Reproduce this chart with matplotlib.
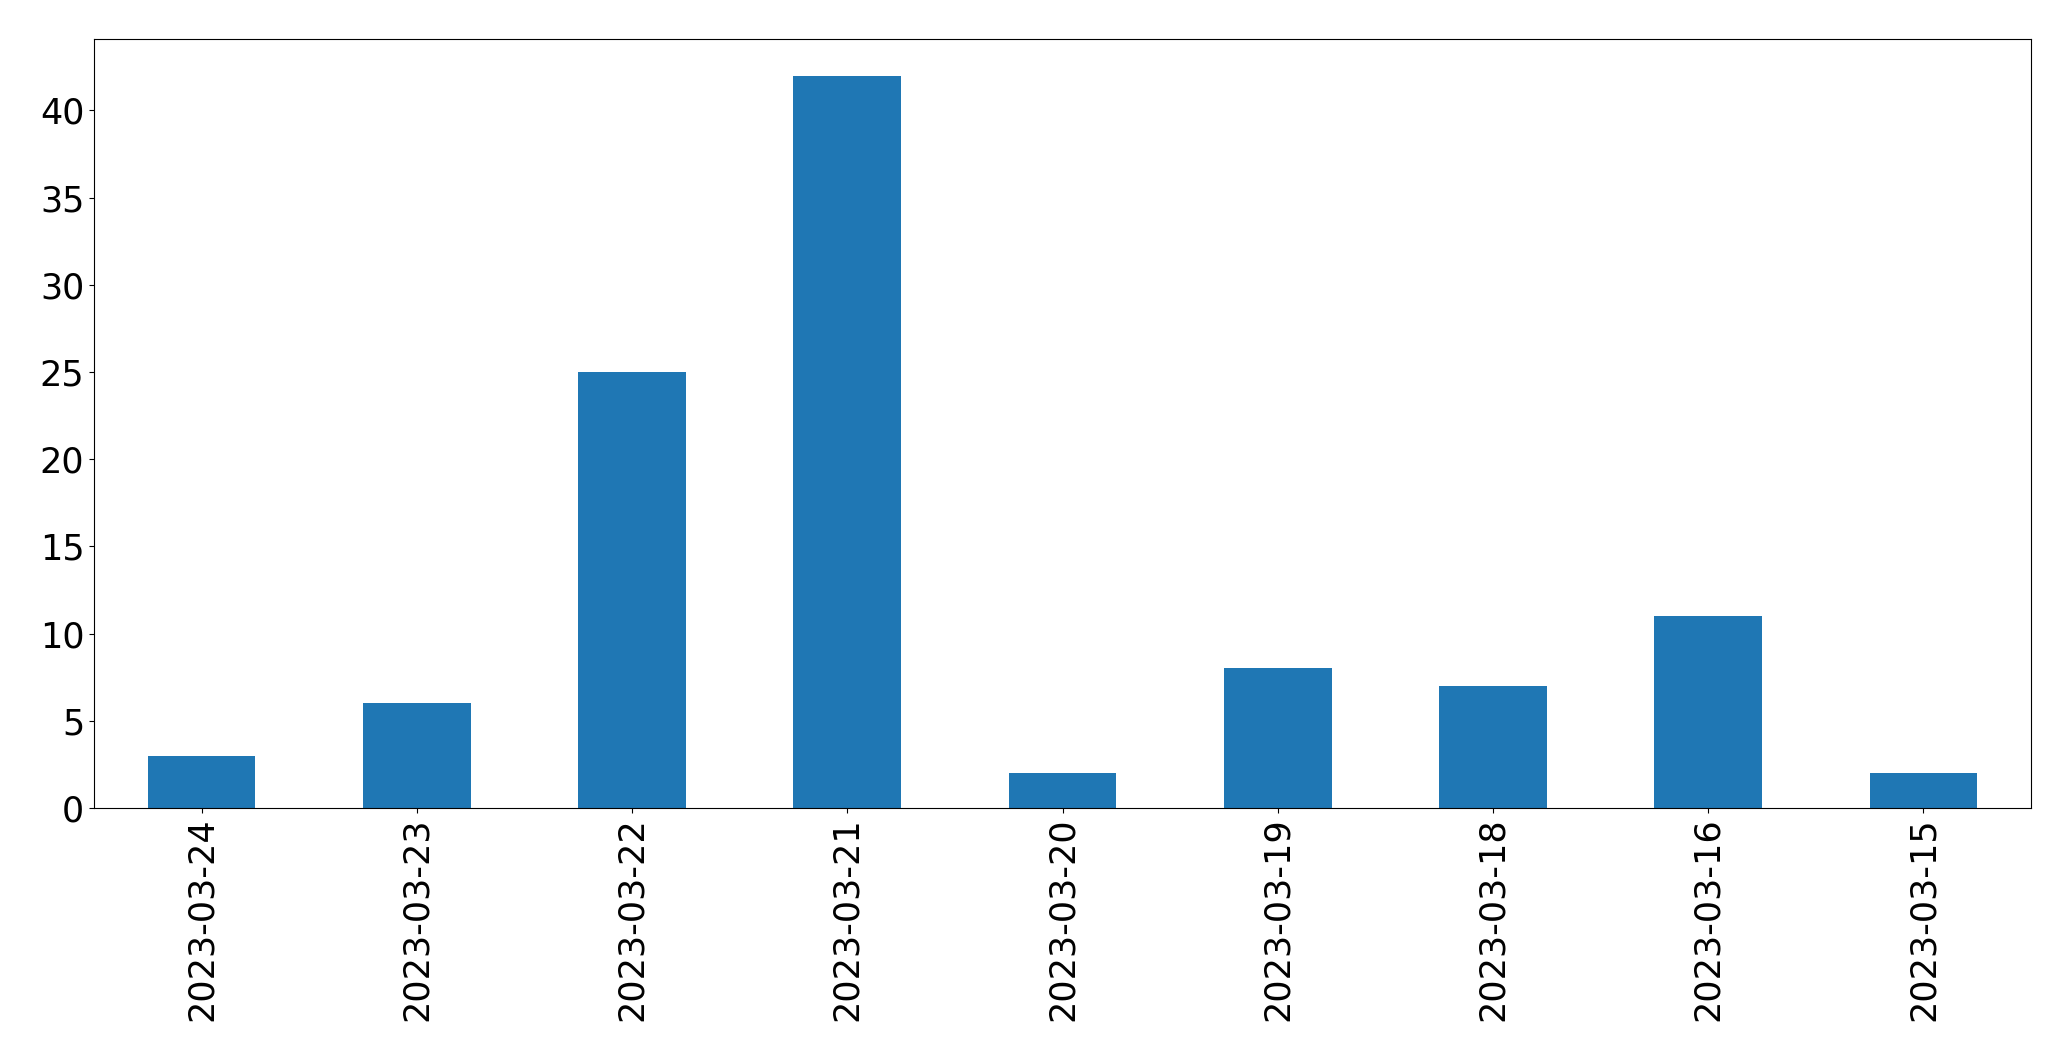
import matplotlib
matplotlib.use("Agg")
import matplotlib.pyplot as plt

dates = ["2023-03-24", "2023-03-23", "2023-03-22", "2023-03-21", "2023-03-20",
         "2023-03-19", "2023-03-18", "2023-03-16", "2023-03-15"]
counts = [3, 6, 25, 42, 2, 8, 7, 11, 2]

W, H = 2071, 1061
fig = plt.figure(figsize=(W / 100, H / 100), dpi=100)
ax = fig.add_axes([94 / W, 1 - 808 / H, (2031 - 94) / W, (808 - 39) / H])
x = list(range(len(dates)))
ax.bar(x, counts, width=0.5, color="#1f77b4")
ax.set_xlim(-0.5, len(dates) - 0.5)
ax.set_xticks(x)
ax.set_xticklabels(dates, rotation=90)
ax.tick_params(labelsize=25.2)
fig.savefig("out.png", dpi=100)
